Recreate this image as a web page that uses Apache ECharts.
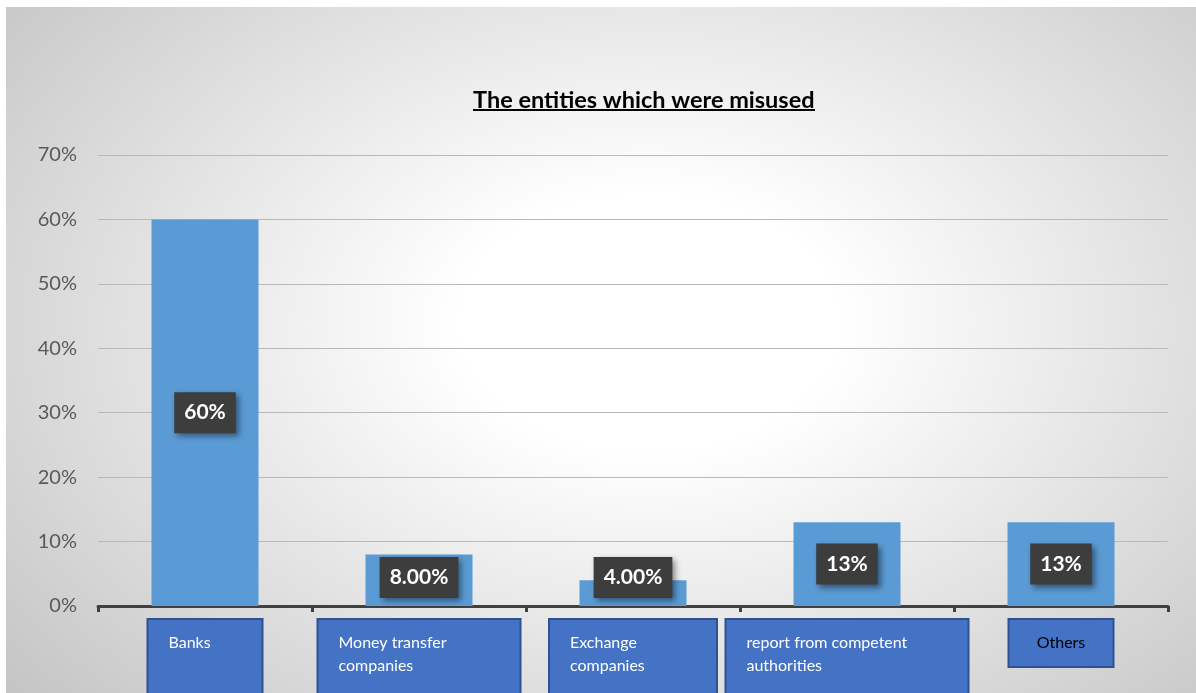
<!DOCTYPE html>
<html>
<head>
<meta charset="utf-8">
<script src="https://cdn.jsdelivr.net/npm/echarts@6/dist/echarts.min.js"></script>
<style>
  html, body { margin: 0; padding: 0; background: #ffffff; }
  #bg {
    position: absolute; left: 6px; top: 7px; width: 1190px; height: 686px;
    background: radial-gradient(ellipse 72% 85% at 54% 46%, #ffffff 22%, #c3c3c3 100%);
  }
  #chart { position: absolute; left: 0; top: 0; width: 1196px; height: 693px; }
</style>
</head>
<body>
<div id="bg"></div>
<div id="chart"></div>
<script>
// Entities that were misused, share of cases (%)
const categories = [
  'Banks',
  'Money transfer\ncompanies',
  'Exchange\ncompanies',
  'report from competent\nauthorities',
  'Others'
];
const shares = [60, 8, 4, 13, 13];
const shareDecimals = [0, 2, 2, 0, 0];
const yMin = 0;
const yMax = 70;
const yStep = 10;

// Box styling for each category label under the axis
const boxBlue = { backgroundColor: '#4472C4', borderColor: '#2F528F', borderWidth: 2 };
const labelBoxes = [
  { width: 83,  height: 90, padding: [11, 10, 0, 20] },
  { width: 171, height: 90, padding: [11, 10, 0, 20] },
  { width: 136, height: 64, padding: [11, 10, 0, 20] },
  { width: 211, height: 90, padding: [11, 10, 0, 20] },
  { width: 103, height: 46, padding: [0, 0, 0, 0], lineHeight: 46 }
];

const FONT = 'Lato, "Open Sans", sans-serif';

const chart = echarts.init(document.getElementById('chart'), null, { renderer: 'canvas' });

const barData = shares.map(function (v) {
  const item = { value: v };
  // short bars keep their value box just above the axis
  if (v < 10) item.label = { position: 'insideBottom', distance: 8 };
  return item;
});

chart.setOption({
  animation: false,
  backgroundColor: 'transparent',
  title: {
    text: 'The entities which were misused',
    left: 468,
    top: 83,
    textStyle: { fontFamily: FONT, fontSize: 23.5, fontWeight: 'bold', color: '#000000' }
  },
  graphic: [
    { type: 'rect', left: 473, top: 109, shape: { width: 342, height: 2 }, style: { fill: '#000000' }, silent: true }
  ],
  grid: { left: 98, right: 28, top: 155, bottom: 87, containLabel: false, outerBoundsMode: 'none' },
  xAxis: {
    type: 'category',
    data: categories.map(function (c, i) {
      return { value: c, textStyle: Object.assign({}, boxBlue, labelBoxes[i]) };
    }),
    axisLine: { show: true, lineStyle: { color: '#404040', width: 3 } },
    axisTick: { show: true, length: 6, lineStyle: { color: '#404040', width: 3 } },
    axisLabel: {
      interval: 0,
      margin: 14,
      verticalAlign: 'top',
      fontFamily: FONT,
      formatter: function (v, i) {
        return i === categories.length - 1 ? '{o|' + v + '}' : '{t|' + v + '}';
      },
      rich: {
        t: { align: 'left', color: '#ffffff', fontFamily: FONT, fontSize: 16, lineHeight: 23 },
        o: { align: 'center', color: '#000000', fontFamily: FONT, fontSize: 16, lineHeight: 46 }
      }
    },
    splitLine: { show: false }
  },
  yAxis: {
    type: 'value',
    min: yMin,
    max: yMax,
    interval: yStep,
    axisLine: { show: false },
    axisTick: { show: false },
    axisLabel: {
      formatter: '{value}%',
      color: '#595959',
      fontFamily: FONT,
      fontSize: 20,
      margin: 21
    },
    splitLine: { show: true, lineStyle: { color: '#b9b9b9', width: 1 } }
  },
  series: [{
    type: 'bar',
    data: barData,
    barWidth: '50%',
    itemStyle: { color: '#5B9BD5' },
    label: {
      show: true,
      position: 'inside',
      formatter: function (p) {
        return shares[p.dataIndex].toFixed(shareDecimals[p.dataIndex]) + '%';
      },
      color: '#ffffff',
      fontFamily: FONT,
      fontSize: 21,
      fontWeight: 'bold',
      lineHeight: 25,
      backgroundColor: '#3d3d3d',
      padding: [8, 10],
      shadowColor: 'rgba(0,0,0,0.45)',
      shadowBlur: 6,
      shadowOffsetX: 3,
      shadowOffsetY: 3
    }
  }]
});
</script>
</body>
</html>
